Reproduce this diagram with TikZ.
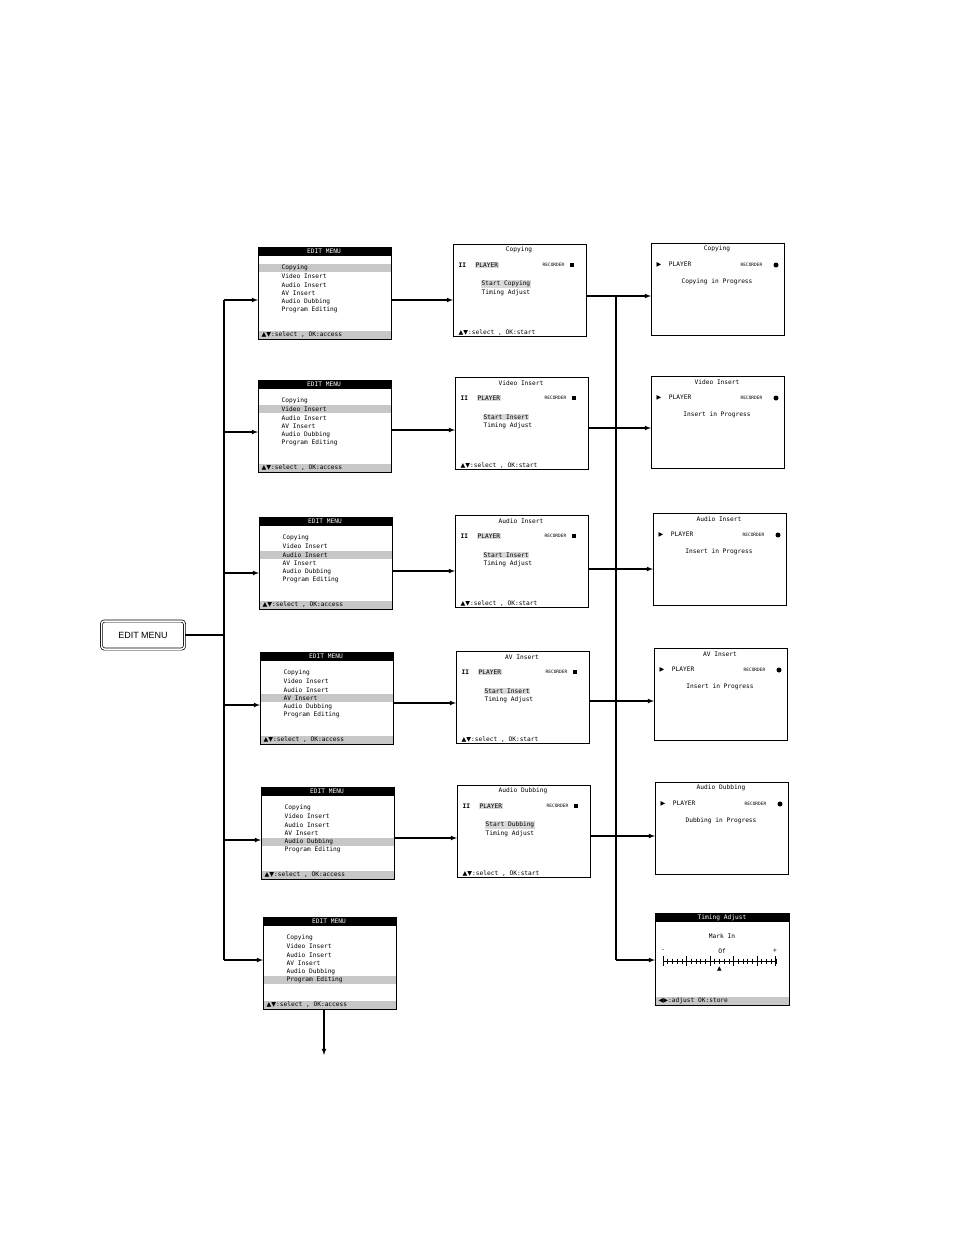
\documentclass[tikz,border=0pt]{standalone}
\usepackage{fontspec}
\setmainfont{Liberation Sans}
\newfontfamily\scrfont{DejaVu Sans Mono}
\newfontfamily\symfont{DejaVu Sans}
\usetikzlibrary{arrows}
\tikzset{
  screen/.style={draw, line width=0.9pt, anchor=north west, inner sep=0pt},
  txt/.style={font=\scrfont\fontsize{6.2}{7}\selectfont, inner sep=0.5pt},
  hilite/.style={fill=black!22},
  link/.style={line width=1.1pt, -latex},
  trunk/.style={line width=1.1pt}
}
% edit menu screen: name, x, y, highlighted line
\newcommand\editscreen[4]{%
  \fill (#2,#3) rectangle (#2+133,#3+9);
  \node[txt, text=white] at (#2+66,#3+4.5) {EDIT MENU};
  \foreach \t [count=\i] in {Copying,Video Insert,Audio Insert,AV Insert,Audio Dubbing,Program Editing}{
    \ifnum\i=#4 \fill[hilite] (#2,#3+12.5+\i*8.4-4) rectangle (#2+133,#3+12.5+\i*8.4+4); \fi
    \node[txt, anchor=west] at (#2+23,#3+12.5+\i*8.4) {\t};
  }
  \fill[hilite] (#2,#3+84) rectangle (#2+133,#3+92);
  \node[txt, anchor=west] at (#2+3,#3+88) {{\symfont ▲▼}:select , OK:access};
  \node[screen, minimum width=133pt, minimum height=92pt] (#1) at (#2,#3) {};
}
% start screen: name, x, y, title, start text
\newcommand\startscreen[5]{%
  \node[txt] at (#2+66,#3+6) {#4};
  \node[txt, anchor=west] at (#2+5,#3+21) {\textbf{II}};
  \node[txt, anchor=west, fill=black!15] at (#2+22,#3+21) {PLAYER};
  \node[txt, anchor=east, font=\scrfont\fontsize{4.5}{5}\selectfont] at (#2+112,#3+21) {RECORDER};
  \fill (#2+117,#3+19) rectangle (#2+121,#3+23);
  \node[txt, anchor=west, fill=black!15] at (#2+28,#3+40) {#5};
  \node[txt, anchor=west] at (#2+28,#3+49) {Timing Adjust};
  \node[txt, anchor=west] at (#2+5,#3+89) {{\symfont ▲▼}:select , OK:start};
  \node[screen, minimum width=133pt, minimum height=92pt] (#1) at (#2,#3) {};
}
% running screen: name, x, y, title, progress text
\newcommand\runscreen[5]{%
  \node[txt] at (#2+66,#3+6) {#4};
  \node[txt, anchor=west] at (#2+5,#3+22) {{\symfont ▶}\ \ PLAYER};
  \node[txt, anchor=east, font=\scrfont\fontsize{4.5}{5}\selectfont] at (#2+112,#3+22) {RECORDER};
  \fill (#2+125,#3+22) circle (2.5);
  \node[txt] at (#2+66,#3+39) {#5};
  \node[screen, minimum width=133pt, minimum height=92pt] (#1) at (#2,#3) {};
}
\begin{document}
\begin{tikzpicture}[x=1pt, y=-1pt]
  \useasboundingbox (0,0) rectangle (954,1235);
  % button
  \node[draw, rounded corners=3pt, double, double distance=1.5pt, line width=0.7pt,
        minimum width=83pt, minimum height=28pt, font=\fontsize{9}{10}\selectfont] (btn) at (143,635) {EDIT MENU};
  % edit menus
  \editscreen{m1}{258}{247}{1}
  \editscreen{m2}{258}{380}{2}
  \editscreen{m3}{259}{517}{3}
  \editscreen{m4}{260}{652}{4}
  \editscreen{m5}{261}{787}{5}
  \editscreen{m6}{263}{917}{6}
  % start screens
  \startscreen{s1}{453}{244}{Copying}{Start Copying}
  \startscreen{s2}{455}{377}{Video Insert}{Start Insert}
  \startscreen{s3}{455}{515}{Audio Insert}{Start Insert}
  \startscreen{s4}{456}{651}{AV Insert}{Start Insert}
  \startscreen{s5}{457}{785}{Audio Dubbing}{Start Dubbing}
  % running screens
  \runscreen{r1}{651}{243}{Copying}{Copying in Progress}
  \runscreen{r2}{651}{376}{Video Insert}{Insert in Progress}
  \runscreen{r3}{653}{513}{Audio Insert}{Insert in Progress}
  \runscreen{r4}{654}{648}{AV Insert}{Insert in Progress}
  \runscreen{r5}{655}{782}{Audio Dubbing}{Dubbing in Progress}
  % timing adjust
  \fill (655,913) rectangle (789,922);
  \node[txt, text=white] at (722,917.5) {Timing Adjust};
  \node[txt] at (722,936) {Mark In};
  \node[txt] at (663,951) {-};
  \node[txt] at (722,951) {Of};
  \node[txt] at (775,951) {+};
  \draw[line width=0.8pt] (663,961) -- (776,961);
  \foreach \k in {0,...,24}{\draw[line width=0.5pt] (663+\k*4.7,958.5) -- (663+\k*4.7,963.5);}
  \foreach \k in {0,5,10,15,20,24}{\draw[line width=0.8pt] (663+\k*4.7,956) -- (663+\k*4.7,966);}
  \node[txt, font=\symfont\fontsize{6}{6}\selectfont] at (719.5,969) {▲};
  \fill[hilite] (655,997) rectangle (789,1005);
  \node[txt, anchor=west] at (658,1001) {{\symfont ◀▶}:adjust  OK:store};
  \node[screen, minimum width=134pt, minimum height=92pt] (t1) at (655,913) {};
  % trunk to edit menus
  \coordinate (jl) at (224,635);
  \draw[trunk] (btn.east) -- (jl);
  \draw[trunk] (224,300) -- (224,960);
  \foreach \m/\y in {m1/300,m2/432,m3/573,m4/705,m5/840,m6/960}
    \draw[link] (224,\y) -- (\m.west |- {(0,\y)});
  % menus to start screens
  \foreach \m/\s/\y in {m1/s1/300,m2/s2/430,m3/s3/571,m4/s4/703,m5/s5/838}
    \draw[link] (\m.east |- {(0,\y)}) -- (\s.west |- {(0,\y)});
  % start screens to running screens
  \foreach \s/\r/\y in {s1/r1/296,s2/r2/428,s3/r3/569,s4/r4/701,s5/r5/836}
    \draw[link] (\s.east |- {(0,\y)}) -- (\r.west |- {(0,\y)});
  \draw[trunk] (616,296) -- (616,960);
  \draw[link] (616,960) -- (t1.west |- {(0,960)});
  \draw[link] (m6.south -| {(324,0)}) -- (324,1055);
\end{tikzpicture}
\end{document}
